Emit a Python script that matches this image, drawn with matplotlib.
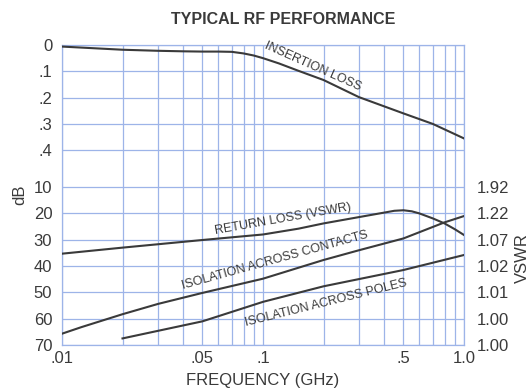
import matplotlib
matplotlib.use("Agg")
import matplotlib.pyplot as plt

plt.rcParams['font.family'] = ['Liberation Sans', 'DejaVu Sans']

# data (x in GHz, y in dB)
freq_il = [0.01, 0.015, 0.02, 0.03, 0.04, 0.05, 0.06, 0.07, 0.08, 0.09, 0.1,
           0.12, 0.15, 0.2, 0.3, 0.5, 0.7, 1.0]
insertion_loss = [0.006, 0.013, 0.018, 0.022, 0.024, 0.025, 0.025, 0.026, 0.032, 0.04, 0.05,
                  0.07, 0.098, 0.133, 0.198, 0.26, 0.30, 0.355]

freq_rl = [0.01, 0.02, 0.05, 0.1, 0.15, 0.2, 0.3, 0.4, 0.45, 0.5, 0.55, 0.6, 0.7, 0.8, 0.9, 1.0]
return_loss = [35.3, 33.0, 30.1, 28.0, 25.8, 23.8, 21.4, 19.7, 19.0, 18.8, 19.2, 20.0,
               21.9, 23.8, 26.0, 28.2]

freq_ic = [0.01, 0.0125, 0.015, 0.02, 0.03, 0.05, 0.1, 0.2, 0.3, 0.5, 0.8, 1.0]
iso_contacts = [65.7, 63.2, 61.3, 58.3, 54.4, 50.2, 44.8, 37.7, 34.0, 29.5, 23.4, 21.0]

freq_ip = [0.02, 0.05, 0.1, 0.2, 0.5, 1.0]
iso_poles = [67.5, 61.0, 53.6, 47.7, 41.5, 35.8]

il_ticks = [0, 0.1, 0.2, 0.3, 0.4]
il_labels = ['0', '.1', '.2', '.3', '.4']
db_ticks = [10, 20, 30, 40, 50, 60, 70]
vswr_labels = ['1.92', '1.22', '1.07', '1.02', '1.01', '1.00', '1.00']
x_ticks = [0.01, 0.05, 0.1, 0.5, 1.0]
x_labels = ['.01', '.05', '.1', '.5', '1.0']


# the chart has two stacked scales on one axis
def il_pos(v):
    return v * 10


def db_pos(d):
    return 5.4 + (d - 10) / 10.0


grid_col = '#9db4e8'
ink = '#3a3a3a'

fig = plt.figure(figsize=(5.3, 3.91), dpi=100)
ax = fig.add_axes([62 / 530, 1 - 345 / 391, 402 / 530, 300 / 391])
ax.set_xscale('log')
ax.set_xlim(0.01, 1.0)
ax.set_ylim(11.4, 0)

# grid
vlines = [k * 0.01 for k in range(1, 10)] + [k * 0.1 for k in range(1, 11)]
for v in vlines:
    ax.axvline(v, color=grid_col, lw=0.9, zorder=1)
for t in il_ticks:
    ax.axhline(il_pos(t), color=grid_col, lw=0.9, zorder=1)
for t in db_ticks:
    ax.axhline(db_pos(t), color=grid_col, lw=0.9, zorder=1)
for s in ax.spines.values():
    s.set_color(grid_col)
    s.set_linewidth(0.9)

# curves
ax.plot(freq_il, [il_pos(v) for v in insertion_loss], color=ink, lw=1.5, zorder=3)
ax.plot(freq_rl, [db_pos(v) for v in return_loss], color=ink, lw=1.5, zorder=3)
ax.plot(freq_ic, [db_pos(v) for v in iso_contacts], color=ink, lw=1.5, zorder=3)
ax.plot(freq_ip, [db_pos(v) for v in iso_poles], color=ink, lw=1.5, zorder=3)

lab = dict(color=ink, fontsize=9, ha='center', va='center', zorder=4)
ax.text(0.177, 0.82, 'INSERTION LOSS', rotation=-24, **lab)
ax.text(0.126, 6.6, 'RETURN LOSS (VSWR)', rotation=10, **lab)
ax.text(0.115, 8.2, 'ISOLATION ACROSS CONTACTS', rotation=15.5, **lab)
ax.text(0.206, 9.8, 'ISOLATION ACROSS POLES', rotation=14, **lab)

# ticks
ax.set_xticks(x_ticks)
ax.set_xticklabels(x_labels)
ax.xaxis.set_minor_locator(matplotlib.ticker.NullLocator())
ax.set_yticks([il_pos(t) for t in il_ticks] + [db_pos(t) for t in db_ticks])
ax.set_yticklabels(il_labels + [str(t) for t in db_ticks])
ax.tick_params(length=0, labelsize=12, colors=ink, pad=7)
ax.tick_params(axis='x', pad=4)

ax2 = ax.twinx()
ax2.set_ylim(11.4, 0)
ax2.set_yticks([db_pos(t) for t in db_ticks])
ax2.set_yticklabels(vswr_labels)
ax2.tick_params(length=0, labelsize=12, colors=ink, pad=9)
for s in ax2.spines.values():
    s.set_visible(False)

ax.set_xlabel('FREQUENCY (GHz)', fontsize=12, color=ink, labelpad=5)
fig.text(20 / 530, 1 - 195 / 391, 'dB', rotation=90, fontsize=12, color=ink, ha='center', va='center')
fig.text(522 / 530, 1 - 258 / 391, 'VSWR', rotation=90, fontsize=12, color=ink, ha='center', va='center')
fig.text(283 / 530, 1 - 19 / 391, 'TYPICAL RF PERFORMANCE', fontsize=11.5, fontweight='bold',
         color=ink, ha='center', va='center')

fig.savefig('out.png', dpi=100)
